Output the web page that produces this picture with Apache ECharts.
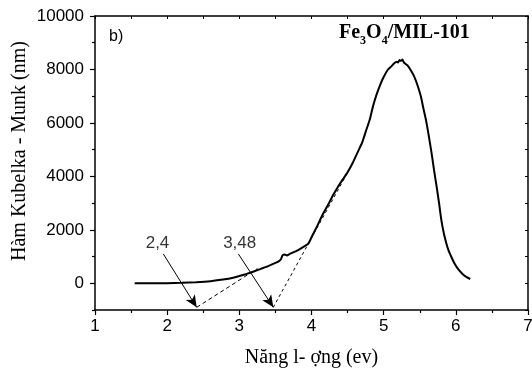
<!DOCTYPE html>
<html>
<head>
<meta charset="utf-8">
<script src="https://cdn.jsdelivr.net/npm/echarts@6/dist/echarts.min.js"></script>
<style>
  html, body { margin: 0; padding: 0; background: #fff; }
  #main { width: 532px; height: 369px; }
</style>
</head>
<body>
<div id="main"></div>
<script>
// Kubelka-Munk curve (energy in eV, value)
const energy = [1.55, 1.8, 2.0, 2.2, 2.4, 2.6, 2.8, 2.9, 3.0, 3.1, 3.2, 3.3, 3.4, 3.5, 3.55, 3.58, 3.6, 3.63, 3.66, 3.7,
  3.8, 3.9, 3.956, 4.0, 4.06, 4.16, 4.25, 4.3, 4.395, 4.45, 4.5, 4.57, 4.63, 4.7, 4.755, 4.81, 4.85, 4.9, 4.96, 5.0,
  5.055, 5.1, 5.147, 5.18, 5.2, 5.22, 5.24, 5.26, 5.28, 5.33, 5.38, 5.425, 5.47, 5.517, 5.55, 5.587, 5.62, 5.665, 5.7,
  5.735, 5.77, 5.8, 5.835, 5.87, 5.9, 5.94, 5.98, 6.03, 6.1, 6.15, 6.2];
const kubelka = [0, 0, 5, 15, 40, 80, 150, 200, 270, 350, 440, 540, 640, 760, 830, 920, 1050, 1080, 1040, 1100,
  1220, 1380, 1480, 1720, 2040, 2600, 3040, 3300, 3730, 3950, 4150, 4500, 4850, 5250, 5700, 6150, 6600, 7050, 7480, 7720,
  7980, 8100, 8230, 8290, 8260, 8350, 8320, 8370, 8260, 8150, 7950, 7725, 7400, 6975, 6550, 6100, 5600, 4850, 4200,
  3600, 2950, 2350, 1850, 1480, 1220, 975, 750, 540, 330, 230, 160];

// tangent (dashed) lines
const tangent1 = [[2.41, -900], [3.25, 550]];
const tangent2 = [[3.47, -900], [4.5, 4140]];

// arrows and their labels
const arrow1 = [[1.946, 1100], [2.409, -900]];
const arrow2 = [[2.986, 1100], [3.471, -900]];
const gapLabels = [
  { text: '2,4', at: [1.866, 1480] },
  { text: '3,48', at: [3.005, 1480] }
];

// ticks
const xMajor = [1, 2, 3, 4, 5, 6, 7];
const xMinor = [1.5, 2.5, 3.5, 4.5, 5.5, 6.5];
const yMajor = [0, 2000, 4000, 6000, 8000, 10000];
const yMinor = [-1000, 1000, 3000, 5000, 7000, 9000];
const yAll = [-1000, 0, 1000, 2000, 3000, 4000, 5000, 6000, 7000, 8000, 9000, 10000];
const xAll = [1, 1.5, 2, 2.5, 3, 3.5, 4, 4.5, 5, 5.5, 6, 6.5, 7];

const serif = '"Liberation Serif", "DejaVu Serif", serif';
const sans = '"Liberation Sans", Arial, sans-serif';

const chart = echarts.init(document.getElementById('main'), null, { renderer: 'canvas' });

const lineStyleAxis = { color: '#000', width: 1.5 };
const plain = v => String(v);

chart.setOption({
  animation: false,
  backgroundColor: '#fff',
  grid: { left: 95, right: 4, top: 16, bottom: 59, containLabel: false, outerBoundsMode: 'none' },
  xAxis: [
    {
      type: 'value', min: 1, max: 7, interval: 1,
      axisLine: { show: true, onZero: false, lineStyle: lineStyleAxis },
      axisTick: { show: true, inside: false, length: 5, lineStyle: { color: '#000', width: 1.2 }, customValues: xMajor },
      axisLabel: { color: '#000', fontFamily: sans, fontSize: 17, margin: 8, customValues: xMajor, formatter: plain },
      splitLine: { show: false },
      name: 'Năng l- ợng (ev)', nameLocation: 'middle', nameGap: 38,
      nameTextStyle: { color: '#000', fontFamily: serif, fontSize: 20 }
    },
    {
      type: 'value', min: 1, max: 7, interval: 0.5, position: 'bottom',
      axisLine: { show: false, onZero: false },
      axisTick: { show: true, inside: false, length: 3, lineStyle: { color: '#000', width: 1.2 }, customValues: xMinor },
      axisLabel: { show: false },
      splitLine: { show: false }
    },
    {
      type: 'value', min: 1, max: 7, interval: 0.5, position: 'top',
      axisLine: { show: true, onZero: false, lineStyle: lineStyleAxis },
      axisTick: { show: true, inside: true, length: 3, lineStyle: { color: '#000', width: 1 }, customValues: xAll },
      axisLabel: { show: false },
      splitLine: { show: false }
    }
  ],
  yAxis: [
    {
      type: 'value', min: -1000, max: 10000, interval: 1000,
      axisLine: { show: true, onZero: false, lineStyle: lineStyleAxis },
      axisTick: { show: true, inside: false, length: 5, lineStyle: { color: '#000', width: 1.2 }, customValues: yMajor },
      axisLabel: { color: '#000', fontFamily: sans, fontSize: 17, margin: 11, customValues: yMajor, formatter: plain },
      splitLine: { show: false }
    },
    {
      type: 'value', min: -1000, max: 10000, interval: 1000, position: 'left',
      axisLine: { show: false, onZero: false },
      axisTick: { show: true, inside: false, length: 3, lineStyle: { color: '#000', width: 1.2 }, customValues: yMinor },
      axisLabel: { show: false },
      splitLine: { show: false }
    },
    {
      type: 'value', min: -1000, max: 10000, interval: 1000, position: 'right',
      axisLine: { show: true, onZero: false, lineStyle: lineStyleAxis },
      axisTick: { show: true, inside: true, length: 3, lineStyle: { color: '#000', width: 1 }, customValues: yAll },
      axisLabel: { show: false },
      splitLine: { show: false }
    }
  ],
  graphic: [
    {
      type: 'text', x: 20, y: 151, rotation: Math.PI / 2,
      style: { text: 'Hàm Kubelka - Munk (nm)', font: '20px ' + serif, fill: '#000', align: 'center', verticalAlign: 'middle' }
    },
    { type: 'text', left: 109, top: 29, style: { text: 'b)', font: '16px ' + sans, fill: '#000' } },
    {
      type: 'text', left: 339, top: 23,
      style: {
        text: '{n|Fe}{s|3}{n|O}{s|4}{n|/MIL-101}',
        rich: {
          n: { font: 'bold 20px ' + serif, fill: '#000', verticalAlign: 'bottom' },
          s: { font: 'bold 12px ' + serif, fill: '#000', verticalAlign: 'bottom', padding: [0, 0, -4, 0] }
        }
      }
    }
  ],
  series: [
    {
      type: 'line', name: 'KM',
      data: energy.map((e, i) => [e, kubelka[i]]),
      showSymbol: false, smooth: 0.15,
      lineStyle: { color: '#000', width: 2 },
      z: 3
    },
    {
      type: 'line', data: tangent1, showSymbol: false,
      lineStyle: { color: '#000', width: 1, type: [4, 3] }
    },
    {
      type: 'line', data: tangent2, showSymbol: false,
      lineStyle: { color: '#000', width: 1, type: [3, 3] }
    },
    {
      type: 'line', data: [], showSymbol: false,
      markLine: {
        silent: true, symbol: ['none', 'arrow'], symbolSize: [8, 12],
        lineStyle: { color: '#000', width: 1, type: 'solid' },
        label: { show: false },
        data: [
          [{ coord: arrow1[0] }, { coord: arrow1[1] }],
          [{ coord: arrow2[0] }, { coord: arrow2[1] }]
        ]
      }
    },
    {
      type: 'scatter', symbolSize: 0,
      data: gapLabels.map(g => ({ value: g.at, name: g.text })),
      label: {
        show: true, position: 'inside', formatter: p => p.name,
        color: '#000', fontFamily: sans, fontSize: 17
      }
    }
  ]
});
</script>
</body>
</html>
